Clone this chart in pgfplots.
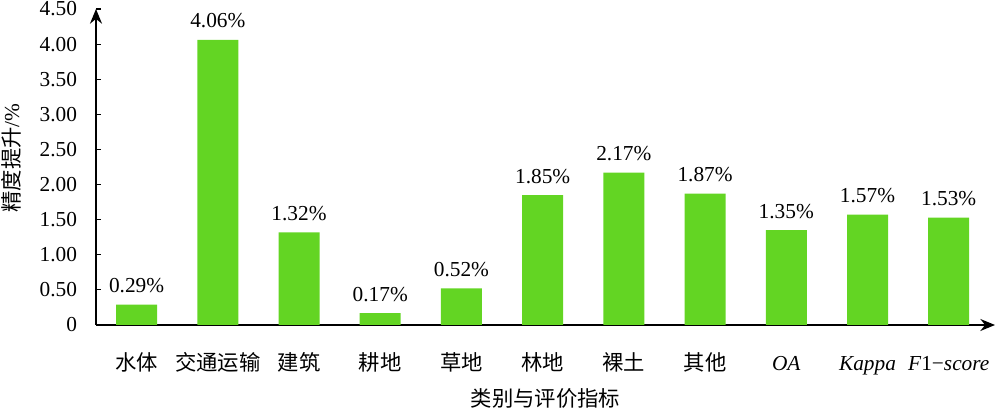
\documentclass[border=0pt]{standalone}
\usepackage{fontspec}
\setmainfont{Liberation Serif}
\newfontfamily\cjk{Noto Sans CJK SC}
\usepackage{pgfplots}
\pgfplotsset{compat=1.18}
\usetikzlibrary{arrows.meta}
\definecolor{barg}{RGB}{99,213,35}
\begin{document}
\begin{tikzpicture}
\useasboundingbox (-72pt,-63pt) rectangle (678pt,243.75pt);
\begin{axis}[
  at={(0,0)}, anchor=south west,
  scale only axis,
  width=674.25pt, height=237pt,
  xmin=-0.5, xmax=10.57,
  ymin=0, ymax=4.5,
  axis lines=left,
  axis line style={line width=1pt, -{Stealth[length=11pt,width=9pt]}},
  ytick={0,0.5,1,1.5,2,2.5,3,3.5,4,4.5},
  yticklabels={0,0.50,1.00,1.50,2.00,2.50,3.00,3.50,4.00,4.50},
  xtick={0,1,2,3,4,5,6,7,8,9,10},
  xticklabels={{\cjk 水体},{\cjk 交通运输},{\cjk 建筑},{\cjk 耕地},{\cjk 草地},{\cjk 林地},{\cjk 裸土},{\cjk 其他},\textit{OA},\textit{Kappa},\textit{F}1−\textit{score}},
  xtick style={draw=none},
  ytick style={line width=0.8pt, black},
  tick align=inside,
  major tick length=4pt,
  yticklabel style={font=\fontsize{16}{19}\selectfont, anchor=east, inner sep=0pt, xshift=-14pt},
  xticklabel style={font=\fontsize{16}{19}\selectfont, anchor=base, inner sep=0pt, yshift=-30pt},
  xlabel={\cjk 类别与评价指标},
  ylabel={{\cjk 精度提升}/\%},
  xlabel style={font=\fontsize{16}{19}\selectfont, at={(axis description cs:0.5,-0.234)}, anchor=center},
  ylabel style={font=\fontsize{16}{19}\selectfont, at={(axis description cs:-0.0945,0.528)}, anchor=center, rotate=0},
  ybar, bar width=30.75pt,
  nodes near coords={\pgfmathprintnumber[fixed,fixed zerofill,precision=2,assume math mode=true]{\pgfplotspointmeta}\%},
  nodes near coords style={font=\fontsize{16}{19}\selectfont, anchor=base, inner sep=0pt, yshift=9pt, black},
  clip=false,
]
\addplot[fill=barg, draw=none] coordinates {
(0,0.29) (1,4.06) (2,1.32) (3,0.17) (4,0.52) (5,1.85) (6,2.17) (7,1.87) (8,1.35) (9,1.57) (10,1.53)};
\end{axis}
\end{tikzpicture}
\end{document}
